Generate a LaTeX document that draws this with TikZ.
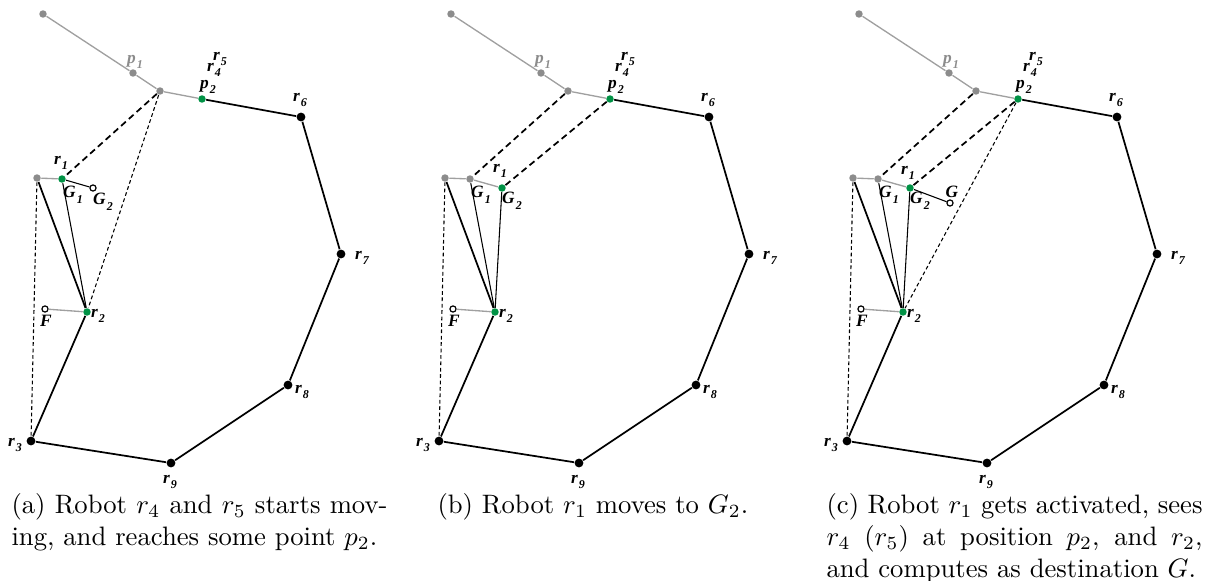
\documentclass[tikz,border=0pt]{standalone}
\usepackage{fontspec}
\usetikzlibrary{positioning}
\newfontfamily\labelfont{Liberation Serif}
\definecolor{robgreen}{RGB}{0,146,69}
\definecolor{ghost}{RGB}{140,140,140}
\definecolor{ghostline}{RGB}{160,160,160}
\newcommand{\ix}[2]{#1\kern0.4pt\raisebox{-0.7ex}{\fontsize{4.5}{5}\selectfont#2}}

\begin{document}
\begin{tikzpicture}[x=0.375pt, y=-0.375pt,
    robot/.style={circle, fill=black, inner sep=0pt, minimum size=3.3pt},
    active/.style={circle, fill=robgreen, inner sep=0pt, minimum size=2.8pt},
    old/.style={circle, fill=ghost, inner sep=0pt, minimum size=2.8pt},
    goal/.style={circle, draw=black, fill=white, line width=0.45pt, inner sep=0pt, minimum size=2.3pt},
    lab/.style={font=\labelfont\bfseries\itshape\fontsize{6.5}{7}\selectfont, inner sep=0pt},
    hull/.style={line width=0.65pt},
    ray/.style={line width=0.4pt},
    trail/.style={draw=ghostline, line width=0.5pt},
    seen/.style={line width=0.65pt, dash pattern=on 2.4pt off 1.5pt},
    sight/.style={line width=0.4pt, dash pattern=on 1.4pt off 1pt},
    capt/.style={text width=141pt, align=justify, inner sep=0pt, anchor=north west}
  ]
  \useasboundingbox (0,0) rectangle (1208,581);

  % what the three snapshots share
  \foreach \p/\dx in {a/0, b/408, c/816} {
    \begin{scope}[shift={(\dx,0)}]
      \node[old] (\p-t) at (43,14) {};
      \node[old] (\p-p1) at (133,73) {};
      \node[old] (\p-q) at (160,91) {};
      \node[active] (\p-p2) at (202,99) {};
      \node[robot] (\p-r6) at (301,117) {};
      \node[robot] (\p-r7) at (341,254) {};
      \node[robot] (\p-r8) at (288,385) {};
      \node[robot] (\p-r9) at (171,463) {};
      \node[robot] (\p-r3) at (31,441) {};
      \node[active] (\p-r2) at (87,312) {};
      \node[goal] (\p-F) at (45,309) {};
      \node[old] (\p-s) at (37,178) {};

      \draw[trail] (\p-t) -- (\p-p1) -- (\p-q) -- (\p-p2);
      \draw[hull] (\p-p2) -- (\p-r6) -- (\p-r7) -- (\p-r8) -- (\p-r9) -- (\p-r3) -- (\p-r2);
      \draw[trail] (\p-r2) -- (\p-F);
      \draw[hull] (\p-s) -- (\p-r2);
      \draw[sight] (\p-s) -- (\p-r3);

      \node[lab, text=ghost] (\p-lp1) at (135,62) {\ix{p}{1}};
      \node[lab] (\p-lp2) at (208,87) {\ix{p}{2}};
      \node[lab] (\p-lr4) at (214,70) {\ix{r}{4}};
      \node[lab] (\p-lr5) at (220,59) {\ix{r}{5}};
      \node[lab] (\p-lr6) at (300,100) {\ix{r}{6}};
      \node[lab] (\p-lr7) at (362,258) {\ix{r}{7}};
      \node[lab] (\p-lr8) at (302,392) {\ix{r}{8}};
      \node[lab] (\p-lr9) at (170,482) {\ix{r}{9}};
      \node[lab] (\p-lr3) at (15,445) {\ix{r}{3}};
      \node[lab] (\p-lr2) at (98,316) {\ix{r}{2}};
      \node[lab] (\p-lF) at (46,321) {F};
      \node[lab] (\p-lG1) at (73,195) {\ix{G}{1}};
    \end{scope}
  }

  % (a) r4, r5 on their way
  \node[active] (a-r1) at (62,179) {};
  \node[goal] (a-G2) at (93,188) {};
  \draw[trail] (a-s) -- (a-r1);
  \draw[ray] (a-r1) -- (a-G2);
  \draw[ray] (a-r1) -- (a-r2);
  \draw[seen] (a-q) -- (a-r1);
  \draw[sight] (a-q) -- (a-r2);
  \node[lab] (a-lr1) at (61,163) {\ix{r}{1}};
  \node[lab] (a-lG2) at (103,202) {\ix{G}{2}};

  % (b) r1 at G2
  \begin{scope}[shift={(408,0)}]
    \node[old] (b-g1) at (62,179) {};
    \node[active] (b-r1) at (94,188) {};
    \draw[trail] (b-s) -- (b-g1) -- (b-r1);
    \draw[seen] (b-q) -- (b-g1);
    \draw[seen] (b-p2) -- (b-r1);
    \draw[ray] (b-g1) -- (b-r2);
    \draw[ray] (b-r1) -- (b-r2);
    \node[lab] (b-lr1) at (92,171) {\ix{r}{1}};
    \node[lab] (b-lG2) at (104,201) {\ix{G}{2}};
  \end{scope}

  % (c) new destination G
  \begin{scope}[shift={(816,0)}]
    \node[old] (c-g1) at (62,179) {};
    \node[active] (c-r1) at (94,188) {};
    \node[goal] (c-G) at (134,203) {};
    \draw[trail] (c-s) -- (c-g1) -- (c-r1);
    \draw[ray] (c-r1) -- (c-G);
    \draw[seen] (c-q) -- (c-g1);
    \draw[seen] (c-p2) -- (c-r1);
    \draw[sight] (c-p2) -- (c-r2);
    \draw[ray] (c-g1) -- (c-r2);
    \draw[ray] (c-r1) -- (c-r2);
    \node[lab] (c-lr1) at (92,173) {\ix{r}{1}};
    \node[lab] (c-lG2) at (104,201) {\ix{G}{2}};
    \node[lab] (c-lG) at (136,192) {G};
  \end{scope}

  \node[capt] (cap-a) at (11,493) {(a) Robot $r_4$ and $r_5$ starts mov-\linebreak ing, and reaches some point $p_2$.};
  \node[anchor=north west, inner sep=0pt] (cap-b) at (437,493) {(b) Robot $r_1$ moves to $G_2$.};
  \node[capt] (cap-c) at (826,493) {(c) Robot $r_1$ gets activated, sees\linebreak $r_4$ ($r_5$) at position $p_2$, and $r_2$,\linebreak and computes as destination $G$.};
\end{tikzpicture}
\end{document}
